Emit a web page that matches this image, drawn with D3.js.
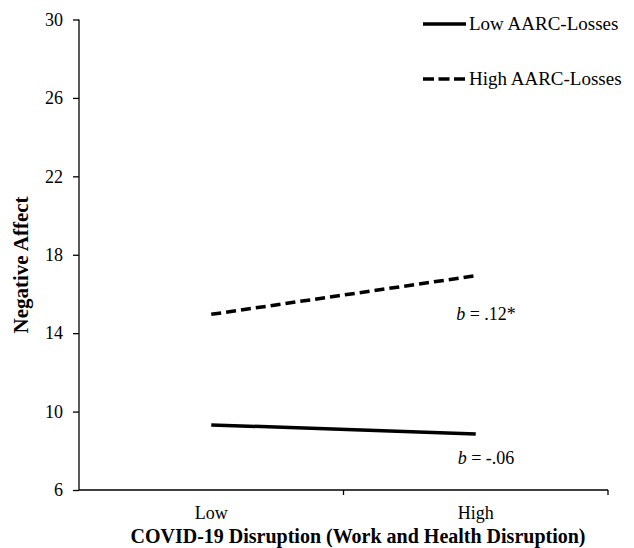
<!DOCTYPE html>
<html>
<head>
<meta charset="utf-8">
<script src="https://cdn.jsdelivr.net/npm/d3@7"></script>
<style>
  body { margin: 0; background: #fff; }
  svg text { font-family: "Liberation Serif", "Times New Roman", serif; fill: #000; }
</style>
</head>
<body>
<div id="chart"></div>
<script>
// data
var categories = ["Low", "High"];
var lowLosses = [9.32, 8.86];
var highLosses = [14.96, 16.93];
var yTicks = [6, 10, 14, 18, 22, 26, 30];
var seriesNames = ["Low AARC-Losses", "High AARC-Losses"];
var slopeLabels = ["-.06", ".12*"];

var width = 634, height = 548;
var svg = d3.select("#chart").append("svg")
  .attr("width", width)
  .attr("height", height);

var x = d3.scaleBand().domain(categories).range([79, 608]);
var y = d3.scaleLinear().domain([6, 30]).range([490, 19.5]);

// y axis
var yAxis = svg.append("g")
  .attr("transform", "translate(79,0)")
  .call(d3.axisLeft(y).tickValues(yTicks).tickSize(6).tickPadding(10));
yAxis.selectAll("text").style("font-size", "18px");
yAxis.select(".domain").attr("d", "M0," + y(30) + "V" + y(6)).attr("stroke-width", 1.3);
yAxis.selectAll(".tick line").attr("stroke-width", 1.3);

// x axis (ticks at band edges, labels centred)
var xAxis = svg.append("g").attr("transform", "translate(0,490)");
xAxis.append("line")
  .attr("x1", 79).attr("x2", 608)
  .attr("stroke", "#000").attr("stroke-width", 1.3);
xAxis.selectAll(".edge")
  .data([x("High"), x.range()[1]])
  .enter().append("line")
  .attr("x1", function(d) { return d; })
  .attr("x2", function(d) { return d; })
  .attr("y1", 0).attr("y2", 5)
  .attr("stroke", "#000").attr("stroke-width", 1.3);
xAxis.selectAll(".lbl")
  .data(categories)
  .enter().append("text")
  .attr("x", function(d) { return x(d) + x.bandwidth() / 2; })
  .attr("y", 29)
  .attr("text-anchor", "middle")
  .style("font-size", "18px")
  .text(function(d) { return d; });

// axis titles
svg.append("text")
  .attr("x", 358).attr("y", 543)
  .attr("text-anchor", "middle")
  .style("font-size", "20px").style("font-weight", "bold")
  .text("COVID-19 Disruption (Work and Health Disruption)");
svg.append("text")
  .attr("transform", "translate(28,265) rotate(-90)")
  .attr("text-anchor", "middle")
  .style("font-size", "21px").style("font-weight", "bold")
  .text("Negative Affect");

var line = d3.line()
  .x(function(d, i) { return x(categories[i]) + x.bandwidth() / 2; })
  .y(function(d) { return y(d); });

svg.append("path")
  .datum(lowLosses)
  .attr("d", line)
  .attr("fill", "none").attr("stroke", "#000").attr("stroke-width", 3.5);
svg.append("path")
  .datum(highLosses)
  .attr("d", line)
  .attr("fill", "none").attr("stroke", "#000").attr("stroke-width", 3.5)
  .attr("stroke-dasharray", "10,5");

// slope labels under the High end of each line
var slopes = [{v: lowLosses[1], t: slopeLabels[0], dy: 30}, {v: highLosses[1], t: slopeLabels[1], dy: 44}];
slopes.forEach(function(s) {
  var t = svg.append("text")
    .attr("x", 486).attr("y", y(s.v) + s.dy)
    .attr("text-anchor", "middle")
    .style("font-size", "18px");
  t.append("tspan").style("font-style", "italic").text("b");
  t.append("tspan").text(" = " + s.t);
});

// legend
var legend = svg.append("g");
var legendY = [24, 79];
seriesNames.forEach(function(name, i) {
  legend.append("line")
    .attr("x1", 423).attr("x2", 466)
    .attr("y1", legendY[i]).attr("y2", legendY[i])
    .attr("stroke", "#000").attr("stroke-width", 3.5)
    .attr("stroke-dasharray", i == 1 ? "11,4.5" : null);
  legend.append("text")
    .attr("x", 469).attr("y", legendY[i] + 6)
    .style("font-size", "19px")
    .text(name);
});
</script>
</body>
</html>
